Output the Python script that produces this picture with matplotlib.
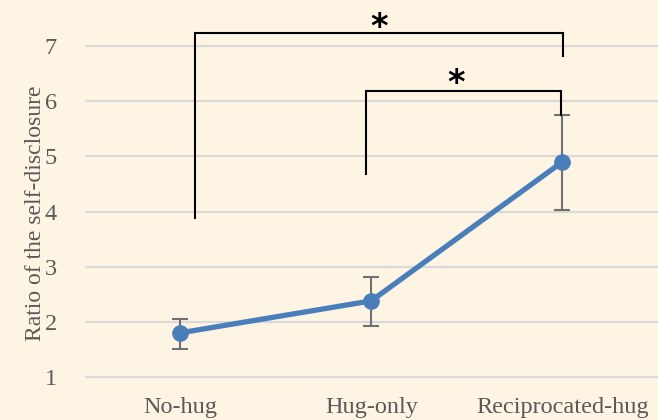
import matplotlib.pyplot as plt

# data
categories = ['No-hug', 'Hug-only', 'Reciprocated-hug']
means = [1.80, 2.38, 4.90]
err_low = [0.29, 0.45, 0.87]
err_high = [0.26, 0.43, 0.85]
yticks = [1, 2, 3, 4, 5, 6, 7]

# significance brackets: (left x, right x, left foot, right foot, top)
brackets = [(0.08, 2.005, 3.88, 6.82, 7.23),
            (0.97, 1.995, 4.68, 5.75, 6.18)]
star_pos = [(1.04, 7.34), (1.445, 6.32)]

bg = '#FDF4E3'
plt.rcParams['font.family'] = ['Liberation Serif', 'DejaVu Serif']

fig = plt.figure(figsize=(6.58, 4.2), dpi=100, facecolor=bg)
ax = fig.add_axes([84.5/658, 35/420, 573.5/658, 385/420])
ax.set_facecolor(bg)

x = list(range(len(categories)))
ax.errorbar(x, means, yerr=[err_low, err_high], fmt='none', ecolor='#707070',
            elinewidth=1.5, capsize=6, capthick=1.5, zorder=2)
ax.plot(x, means, '-o', color='#4A7EBB', lw=3.8, markersize=11, zorder=3)

for x0, x1, y0, y1, top in brackets:
    ax.plot([x0, x0, x1, x1], [y0, top, top, y1], color='black', lw=1.5,
            solid_joinstyle='miter', zorder=4)
for sx, sy in star_pos:
    ax.text(sx, sy, '*', ha='center', va='center', fontsize=24,
            fontweight='bold', family='DejaVu Sans', color='black')

ax.set_xlim(-0.5, 2.5)
ax.set_ylim(0.855, 7.834)
ax.set_yticks(yticks)
ax.set_xticks(x)
ax.set_xticklabels(categories)
ax.grid(axis='y', color='#D9D9D9', lw=1.5)
ax.set_axisbelow(True)
for s in ax.spines.values():
    s.set_visible(False)
ax.tick_params(length=0, labelsize=17.5, colors='#595959')
ax.tick_params(axis='y', pad=20)
ax.tick_params(axis='x', pad=9)
ax.set_ylabel('Ratio of the self-disclosure', fontsize=17, color='#595959')
ax.yaxis.set_label_coords(-0.068, 0.447)

fig.savefig('out.png', dpi=100, facecolor=bg)
